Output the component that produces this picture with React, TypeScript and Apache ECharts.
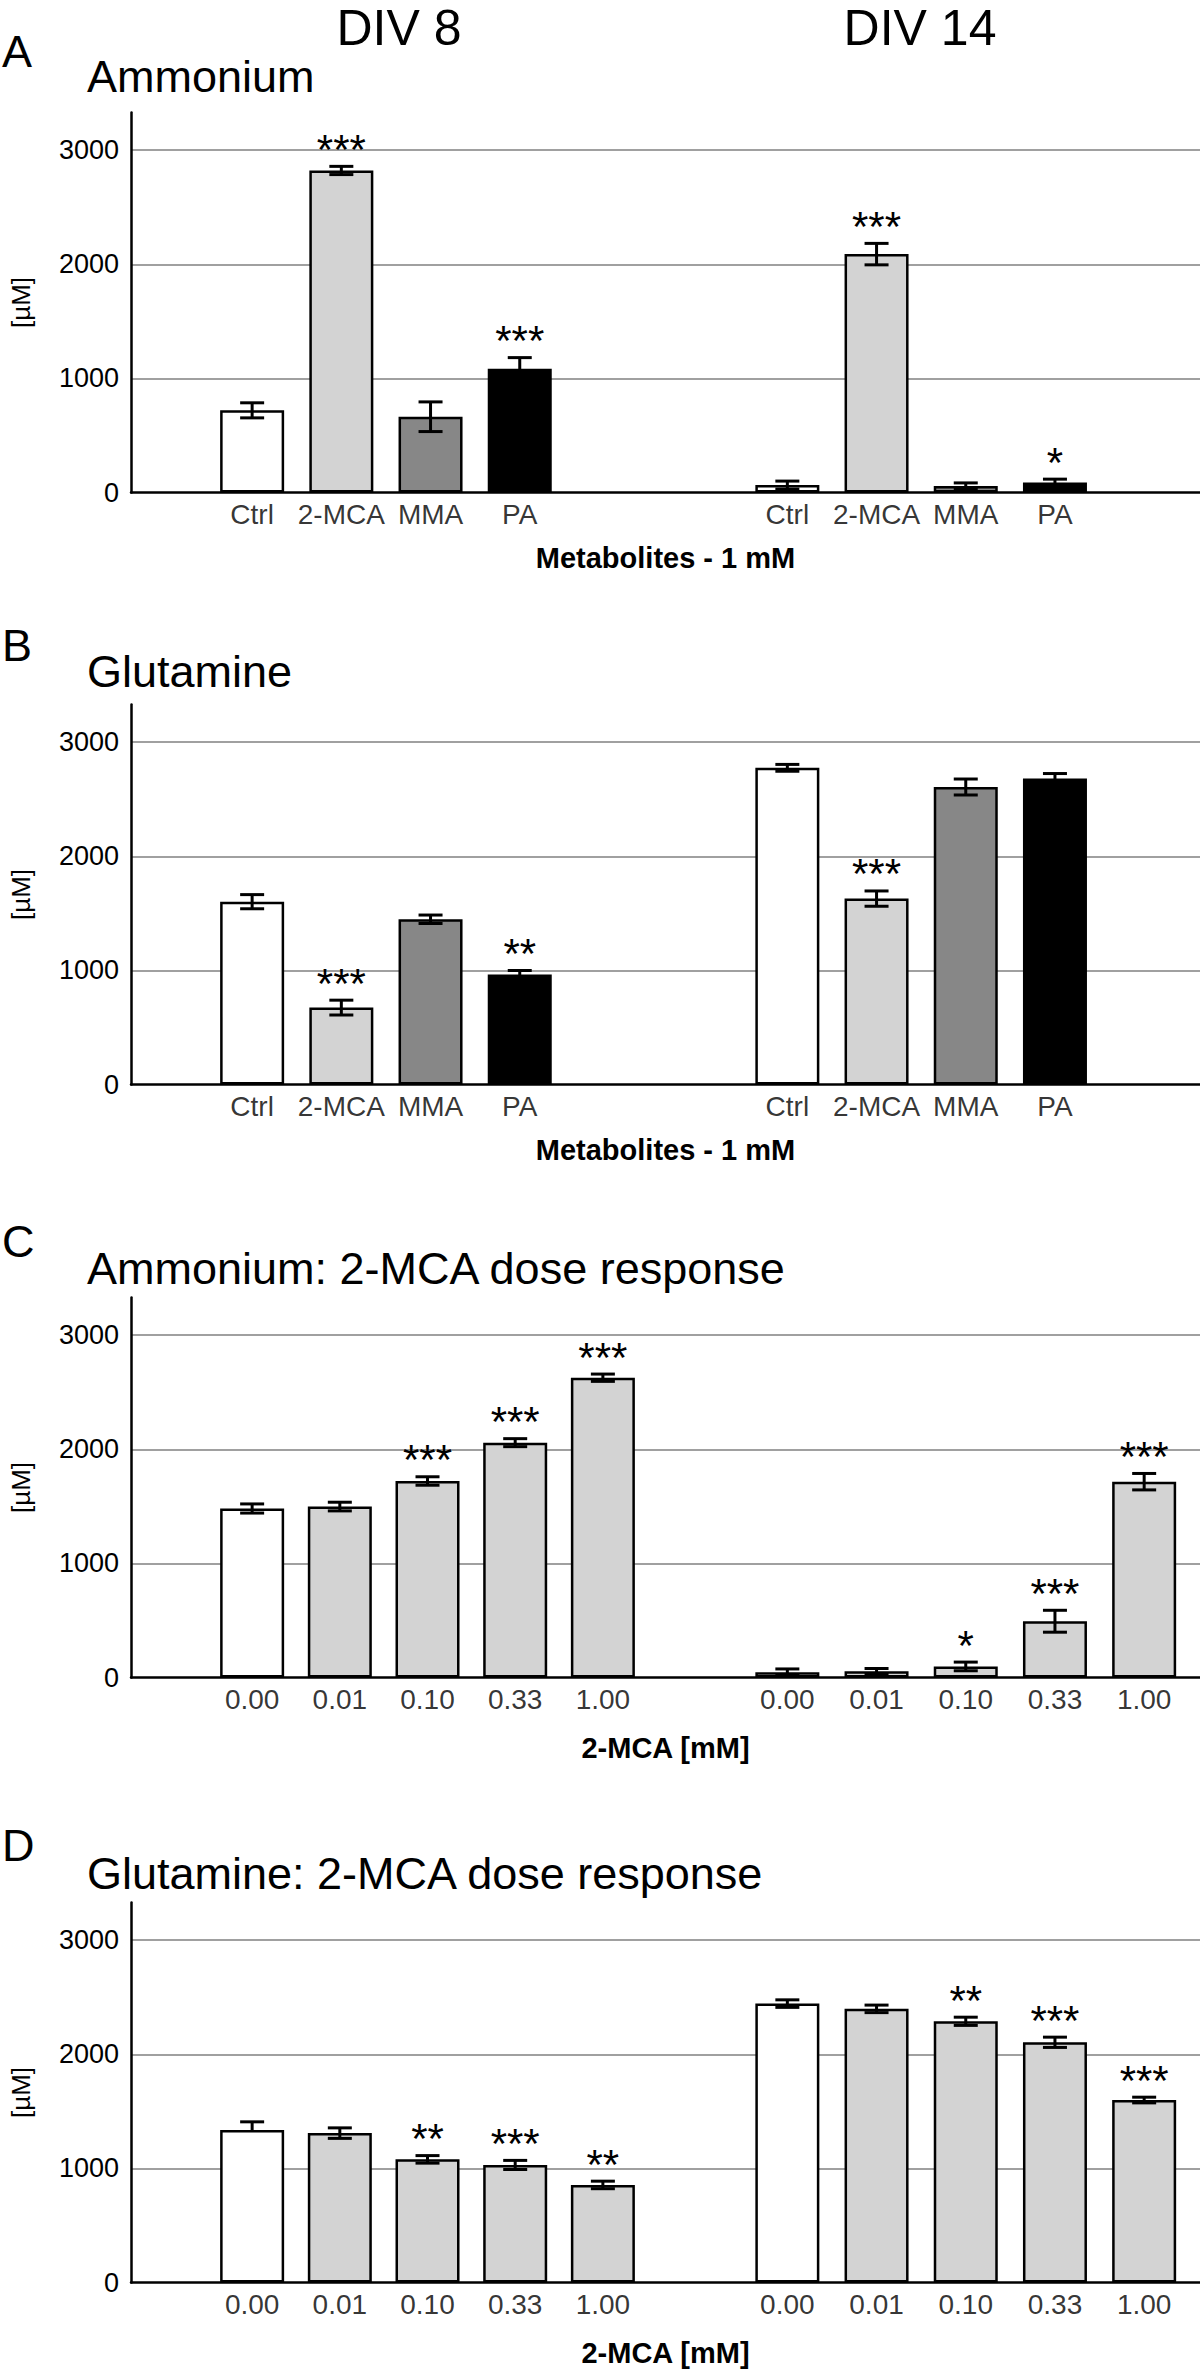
import React, { useEffect, useRef } from "react";
import * as echarts from "echarts";

// ---------- data ----------
const metaboliteCategories = ["Ctrl", "2-MCA", "MMA", "PA"];
const doseCategories = ["0.00", "0.01", "0.10", "0.33", "1.00"];
const groupNames = ["DIV 8", "DIV 14"];
const yTickStep = 1000;

// A: Ammonium, metabolites 1 mM
const ammoniumDiv8 = [720, 2822, 664, 1085];
const ammoniumDiv8Err = [66, 36, 130, 97];
const ammoniumDiv8Sig = ["", "***", "", "***"];
const ammoniumDiv14 = [65, 2089, 58, 87];
const ammoniumDiv14Err = [35, 94, 26, 30];
const ammoniumDiv14Sig = ["", "***", "", "*"];

// B: Glutamine, metabolites 1 mM
const glutamineDiv8 = [1602, 674, 1448, 965];
const glutamineDiv8Err = [62, 65, 37, 34];
const glutamineDiv8Sig = ["", "***", "", "**"];
const glutamineDiv14 = [2775, 1629, 2607, 2681];
const glutamineDiv14Err = [30, 67, 70, 44];
const glutamineDiv14Sig = ["", "***", "", ""];

// C: Ammonium, 2-MCA dose response
const ammDoseDiv8 = [1481, 1498, 1722, 2058, 2627];
const ammDoseDiv8Err = [40, 38, 37, 35, 32];
const ammDoseDiv8Sig = ["", "", "***", "***", "***"];
const ammDoseDiv14 = [47, 54, 97, 493, 1716];
const ammDoseDiv14Err = [28, 25, 38, 96, 72];
const ammDoseDiv14Sig = ["", "", "*", "***", "***"];

// D: Glutamine, 2-MCA dose response
const glnDoseDiv8 = [1336, 1309, 1079, 1030, 855];
const glnDoseDiv8Err = [72, 46, 33, 40, 33];
const glnDoseDiv8ErrLow = [0, 46, 33, 40, 33];
const glnDoseDiv8Sig = ["", "", "**", "***", "**"];
const glnDoseDiv14 = [2444, 2398, 2289, 2105, 1599];
const glnDoseDiv14Err = [33, 33, 36, 45, 25];
const glnDoseDiv14Sig = ["", "", "**", "***", "***"];

const metaboliteColors = ["#ffffff", "#d3d3d3", "#878787", "#000000"];
const doseColors = ["#ffffff", "#d3d3d3", "#d3d3d3", "#d3d3d3", "#d3d3d3"];

const panels = [
  {
    letter: "A", title: "Ammonium", xName: "Metabolites - 1 mM",
    cats: metaboliteCategories, colors: metaboliteColors,
    groups: [
      { values: ammoniumDiv8, up: ammoniumDiv8Err, low: ammoniumDiv8Err, sig: ammoniumDiv8Sig },
      { values: ammoniumDiv14, up: ammoniumDiv14Err, low: ammoniumDiv14Err, sig: ammoniumDiv14Sig },
    ],
  },
  {
    letter: "B", title: "Glutamine", xName: "Metabolites - 1 mM",
    cats: metaboliteCategories, colors: metaboliteColors,
    groups: [
      { values: glutamineDiv8, up: glutamineDiv8Err, low: glutamineDiv8Err, sig: glutamineDiv8Sig },
      { values: glutamineDiv14, up: glutamineDiv14Err, low: glutamineDiv14Err, sig: glutamineDiv14Sig },
    ],
  },
  {
    letter: "C", title: "Ammonium: 2-MCA dose response", xName: "2-MCA [mM]",
    cats: doseCategories, colors: doseColors,
    groups: [
      { values: ammDoseDiv8, up: ammDoseDiv8Err, low: ammDoseDiv8Err, sig: ammDoseDiv8Sig },
      { values: ammDoseDiv14, up: ammDoseDiv14Err, low: ammDoseDiv14Err, sig: ammDoseDiv14Sig },
    ],
  },
  {
    letter: "D", title: "Glutamine: 2-MCA dose response", xName: "2-MCA [mM]",
    cats: doseCategories, colors: doseColors,
    groups: [
      { values: glnDoseDiv8, up: glnDoseDiv8Err, low: glnDoseDiv8ErrLow, sig: glnDoseDiv8Sig },
      { values: glnDoseDiv14, up: glnDoseDiv14Err, low: glnDoseDiv14Err, sig: glnDoseDiv14Sig },
    ],
  },
];

// ---------- layout ----------
const W = 1200;
const H = 2369;
const FONT = "'Liberation Sans', Arial, Helvetica, sans-serif";
const gridLeft = 128.5;
const gridHeight = 380;
const gridTops = [112.5, 704.5, 1297.5, 1902.5];
const letterY = [51, 645, 1241, 1845];
const titleY = [76.5, 671, 1268, 1873];
const xNameGaps = [51, 51, 56, 56];
const leftGroupSpacing = [1, 1, 0.983, 0.983];
const groupStart = 6;
const xMin = -1.358;
const xMax = 10.626;
const yMax = 3330;

function buildOption() {
  const grid: any[] = [];
  const xAxis: any[] = [];
  const yAxis: any[] = [];
  const series: any[] = [];
  const graphic: any[] = [];

  panels.forEach((p, pi) => {
    grid.push({ left: gridLeft, right: 0, top: gridTops[pi], height: gridHeight });
    xAxis.push({
      type: "value", gridIndex: pi, min: xMin, max: xMax,
      axisLine: { show: true, onZero: true, lineStyle: { color: "#000", width: 2.5 } },
      axisTick: { show: false }, axisLabel: { show: false }, splitLine: { show: false },
      name: p.xName, nameLocation: "middle", nameGap: xNameGaps[pi],
      nameTextStyle: { fontSize: 29, fontWeight: "bold", color: "#000", fontFamily: FONT },
    });
    yAxis.push({
      type: "value", gridIndex: pi, min: 0, max: yMax, interval: yTickStep,
      axisLine: { show: true, onZero: false, lineStyle: { color: "#000", width: 2.5 } },
      axisTick: { show: false },
      axisLabel: {
        fontSize: 27, color: "#000", margin: 12, fontFamily: FONT, showMaxLabel: false,
        formatter: (v: number) => String(v),
      },
      splitLine: { show: true, showMinLine: false, showMaxLine: false, lineStyle: { color: "#a0a0a0", width: 2 } },
      name: "[µM]", nameLocation: "middle", nameGap: 97, nameRotate: 90,
      nameTextStyle: { fontSize: 26, color: "#000", fontFamily: FONT },
    });

    const bars: any[] = [];
    const errs: any[] = [];
    const sigs: string[] = [];
    const labels: any[] = [];
    p.groups.forEach((g, gi) => {
      g.values.forEach((v, i) => {
        const x = gi === 0 ? i * leftGroupSpacing[pi] : groupStart + i;
        bars.push({ value: [x, v], itemStyle: { color: p.colors[i] } });
        errs.push([x, v, g.up[i], g.low[i]]);
        sigs.push(g.sig[i]);
        labels.push({ value: [x, 0], name: p.cats[i] });
      });
    });

    series.push({
      type: "bar", xAxisIndex: pi, yAxisIndex: pi, barWidth: 64, z: 2,
      itemStyle: { borderColor: "#000", borderWidth: 2.5 },
      data: bars, silent: true,
    });
    series.push({
      type: "custom", xAxisIndex: pi, yAxisIndex: pi, z: 4, silent: true,
      encode: { x: 0, y: 1 },
      data: errs,
      renderItem: (params: any, api: any) => {
        const x = api.value(0);
        const m = api.value(1);
        const up = api.value(2);
        const lo = api.value(3);
        const pTop = api.coord([x, m + up]);
        const pBot = api.coord([x, m - lo]);
        const hw = 12;
        const style = { stroke: "#000", lineWidth: 3 };
        const children: any[] = [
          { type: "line", shape: { x1: pTop[0], y1: pTop[1], x2: pBot[0], y2: pBot[1] }, style },
          { type: "line", shape: { x1: pTop[0] - hw, y1: pTop[1], x2: pTop[0] + hw, y2: pTop[1] }, style },
        ];
        if (lo > 0) {
          children.push({ type: "line", shape: { x1: pBot[0] - hw, y1: pBot[1], x2: pBot[0] + hw, y2: pBot[1] }, style });
        }
        const s = sigs[params.dataIndex];
        if (s) {
          children.push({
            type: "text",
            style: {
              text: s, x: pTop[0], y: pTop[1] - 17,
              align: "center", verticalAlign: "middle",
              fontSize: 42, fontFamily: FONT, fill: "#000",
            },
          });
        }
        return { type: "group", children };
      },
    });
    series.push({
      type: "scatter", xAxisIndex: pi, yAxisIndex: pi, symbolSize: 1, silent: true,
      itemStyle: { color: "rgba(0,0,0,0)" },
      label: {
        show: true, position: "bottom", distance: 7, formatter: "{b}",
        fontSize: 28, color: "#000", fontFamily: FONT,
      },
      data: labels,
    });

    graphic.push({
      type: "text", x: 2, y: letterY[pi],
      style: { text: p.letter, fontSize: 45, fontFamily: FONT, fill: "#000", align: "left", verticalAlign: "middle" },
    });
    graphic.push({
      type: "text", x: 87, y: titleY[pi],
      style: { text: p.title, fontSize: 45, fontFamily: FONT, fill: "#000", align: "left", verticalAlign: "middle" },
    });
  });

  graphic.push({
    type: "text", x: 399, y: 28,
    style: { text: groupNames[0], fontSize: 50, fontFamily: FONT, fill: "#000", align: "center", verticalAlign: "middle" },
  });
  graphic.push({
    type: "text", x: 920, y: 28,
    style: { text: groupNames[1], fontSize: 50, fontFamily: FONT, fill: "#000", align: "center", verticalAlign: "middle" },
  });

  return {
    animation: false,
    backgroundColor: "#ffffff",
    textStyle: { fontFamily: FONT },
    grid, xAxis, yAxis, series, graphic,
  };
}

export default function App() {
  const ref = useRef<HTMLDivElement>(null);
  useEffect(() => {
    document.body.style.margin = "0";
    if (!ref.current) return;
    const chart = echarts.init(ref.current, undefined, { renderer: "svg", width: W, height: H });
    chart.setOption(buildOption() as any);
    return () => chart.dispose();
  }, []);
  return <div ref={ref} style={{ width: W, height: H }} />;
}
